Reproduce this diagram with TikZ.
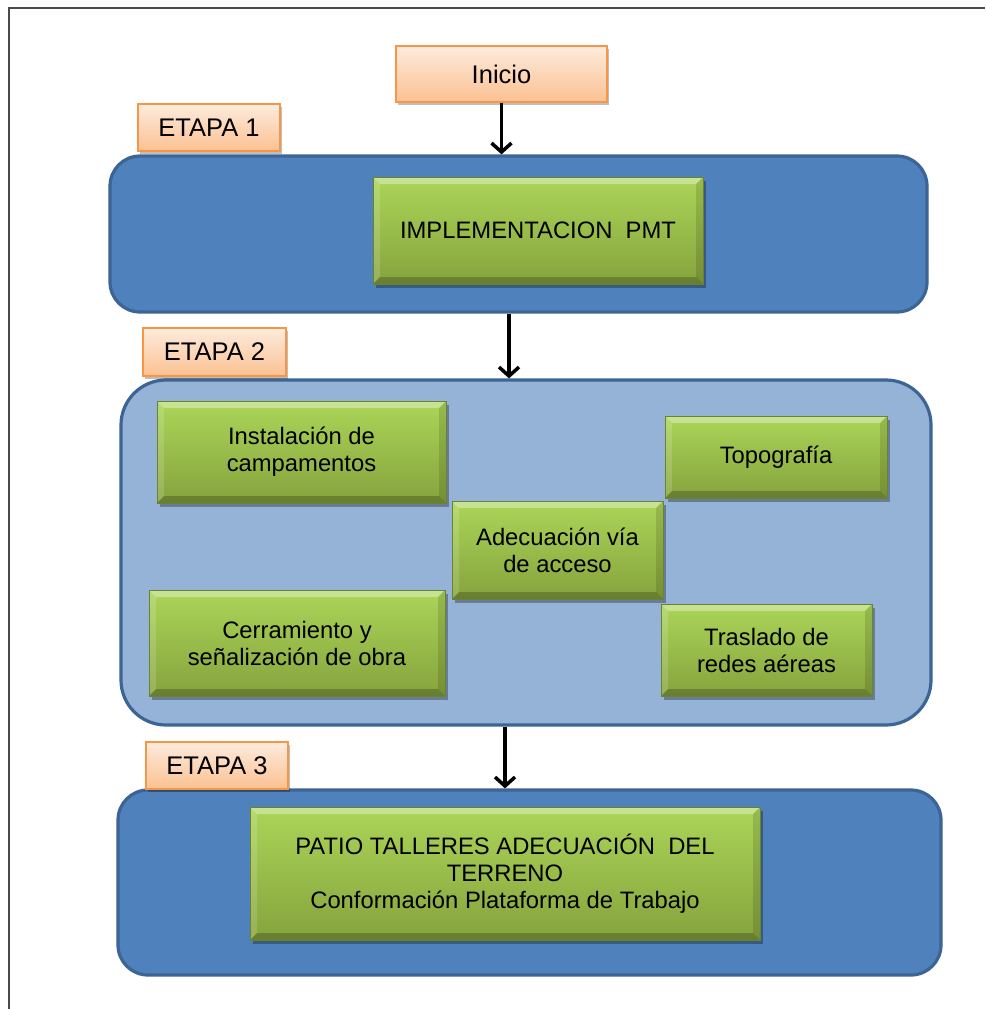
\documentclass[tikz,border=0pt]{standalone}
\usepackage{fontspec}
\setmainfont{Liberation Sans}
\usetikzlibrary{arrows.meta,shadows}

\definecolor{frameline}{HTML}{4A4A4A}
\definecolor{stagedark}{HTML}{4F81BD}
\definecolor{stagelight}{HTML}{95B3D7}
\definecolor{stageedge}{HTML}{3C6494}
\definecolor{greentop}{HTML}{ABD558}
\definecolor{greenbot}{HTML}{86A33D}
\definecolor{greenedge}{HTML}{6B8230}
\definecolor{orangetop}{HTML}{FDEBDD}
\definecolor{orangebot}{HTML}{FBC192}
\definecolor{orangeedge}{HTML}{F79646}

\newcommand{\bevelsize}{7pt}

\tikzset{
  stagebox/.style={draw=stageedge, line width=3.2pt, rounded corners=30pt, fill=stagedark},
  stageboxlight/.style={stagebox, rounded corners=45pt, fill=stagelight},
  labelbox/.style={draw=orangeedge, line width=1.5pt, top color=orangetop, bottom color=orangebot,
    font=\fontsize{25.5}{29}\selectfont, text=black, inner sep=0pt,
    drop shadow={shadow xshift=2pt, shadow yshift=-3pt, opacity=0.25, fill=black}},
  taskbox/.style={draw=greenedge, line width=0.8pt, top color=greentop, bottom color=greenbot,
    font=\fontsize{23.8}{27}\selectfont, text=black, align=center, inner sep=0pt,
    drop shadow={shadow xshift=3pt, shadow yshift=-4pt, opacity=0.3, fill=black},
    path picture={
      \fill[white, opacity=0.35]
        (path picture bounding box.north west) -- (path picture bounding box.north east)
        -- ([xshift=-\bevelsize, yshift=-\bevelsize]path picture bounding box.north east)
        -- ([xshift=\bevelsize, yshift=-\bevelsize]path picture bounding box.north west) -- cycle;
      \fill[white, opacity=0.15]
        (path picture bounding box.north west) -- (path picture bounding box.south west)
        -- ([xshift=\bevelsize, yshift=\bevelsize]path picture bounding box.south west)
        -- ([xshift=\bevelsize, yshift=-\bevelsize]path picture bounding box.north west) -- cycle;
      \fill[black, opacity=0.12]
        (path picture bounding box.north east) -- (path picture bounding box.south east)
        -- ([xshift=-\bevelsize, yshift=\bevelsize]path picture bounding box.south east)
        -- ([xshift=-\bevelsize, yshift=-\bevelsize]path picture bounding box.north east) -- cycle;
      \fill[black, opacity=0.22]
        (path picture bounding box.south west) -- (path picture bounding box.south east)
        -- ([xshift=-\bevelsize, yshift=\bevelsize]path picture bounding box.south east)
        -- ([xshift=\bevelsize, yshift=\bevelsize]path picture bounding box.south west) -- cycle;
    }},
  flowarrow/.style={line width=3.5pt, -{Straight Barb[length=9pt, width=20pt, line width=3.5pt]}}
}

\begin{document}
\begin{tikzpicture}[x=1pt, y=-1pt]
  \useasboundingbox (0,0) rectangle (985,1009);
  \fill[white] (0,0) rectangle (985,1009);

  % page frame
  \draw[frameline, line width=1.5pt] (9,1009) -- (9,8) -- (985,8);

  % stage containers
  \node[stagebox, minimum width=817pt, minimum height=156pt] (e1) at (518.5,234) {};
  \node[stageboxlight, minimum width=810pt, minimum height=345pt] (e2) at (526,552.5) {};
  \node[stagebox, minimum width=823pt, minimum height=185pt] (e3) at (529.5,882.5) {};

  % labels
  \node[labelbox, minimum width=211pt, minimum height=56pt] (ini) at (501.5,74) {Inicio};
  \node[labelbox, minimum width=142pt, minimum height=47pt] (l1) at (209,127.5) {ETAPA 1};
  \node[labelbox, minimum width=143pt, minimum height=48pt] (l2) at (214.5,352) {ETAPA 2};
  \node[labelbox, minimum width=142pt, minimum height=47pt] (l3) at (217,765.5) {ETAPA 3};

  % stage 1
  \node[taskbox, minimum width=330pt, minimum height=107pt] (pmt) at (538,230.5) {IMPLEMENTACION\ \ PMT};

  % stage 2
  \node[taskbox, minimum width=289pt, minimum height=102pt] (inst) at (301.5,452) {Instalación de\\campamentos};
  \node[taskbox, minimum width=222pt, minimum height=82pt] (topo) at (776,457) {Topografía};
  \node[taskbox, minimum width=211pt, minimum height=98pt] (via) at (557.5,550) {Adecuación vía\\de acceso};
  \node[taskbox, minimum width=296pt, minimum height=106pt] (cerr) at (297,643) {Cerramiento y\\señalización de obra};
  \node[taskbox, minimum width=211pt, minimum height=92pt] (redes) at (766.5,650) {Traslado de\\redes aéreas};

  % stage 3
  \node[taskbox, minimum width=510pt, minimum height=133pt] (patio) at (505,873.5)
    {PATIO TALLERES ADECUACIÓN\ \ DEL\\TERRENO\\Conformación Plataforma de Trabajo};

  % flow between stages
  \draw[flowarrow] (ini.south) -- (ini.south |- e1.north);
  \draw[flowarrow] ([xshift=-9.5pt]e1.south) -- ([xshift=-9.5pt]e1.south |- e2.north);
  \draw[flowarrow] ([xshift=-21pt]e2.south) -- ([xshift=-21pt]e2.south |- e3.north);
\end{tikzpicture}
\end{document}
